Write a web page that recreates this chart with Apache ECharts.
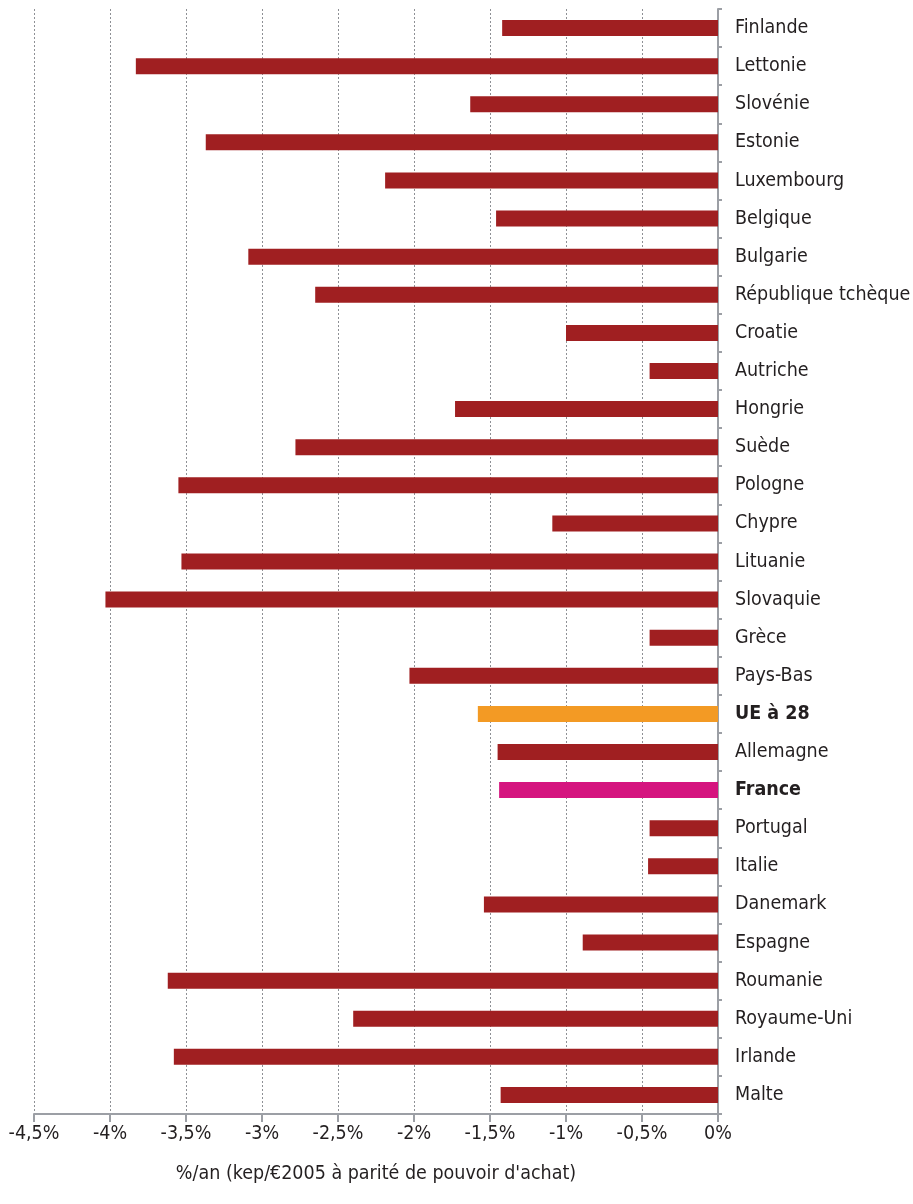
<!DOCTYPE html>
<html>
<head>
<meta charset="utf-8">
<script src="https://cdn.jsdelivr.net/npm/echarts@6/dist/echarts.min.js"></script>
<style>
  html, body { margin: 0; padding: 0; background: #fff; }
  #main { width: 913px; height: 1204px; }
</style>
</head>
<body>
<div id="main"></div>
<script>
// pays, de haut en bas
var pays = ['Finlande', 'Lettonie', 'Slovénie', 'Estonie', 'Luxembourg', 'Belgique',
  'Bulgarie', 'République tchèque', 'Croatie', 'Autriche', 'Hongrie', 'Suède',
  'Pologne', 'Chypre', 'Lituanie', 'Slovaquie', 'Grèce', 'Pays-Bas', 'UE à 28',
  'Allemagne', 'France', 'Portugal', 'Italie', 'Danemark', 'Espagne', 'Roumanie',
  'Royaume-Uni', 'Irlande', 'Malte'];

// évolution annuelle de l'intensité énergétique (%/an)
var evolution = [-1.42, -3.83, -1.63, -3.37, -2.19, -1.46,
  -3.09, -2.65, -1.00, -0.45, -1.73, -2.78,
  -3.55, -1.09, -3.53, -4.03, -0.45, -2.03, -1.58,
  -1.45, -1.44, -0.45, -0.46, -1.54, -0.89, -3.62,
  -2.40, -3.58, -1.43];

var ticksX = [-4.5, -4, -3.5, -3, -2.5, -2, -1.5, -1, -0.5, 0];

var couleurs = { 'UE à 28': '#F39A24', 'France': '#D5157F' };
var couleurDefaut = '#A01F21';
var police = '"Liberation Sans Narrow", "DejaVu Sans Condensed", "Liberation Sans", sans-serif';

var myChart = echarts.init(document.getElementById('main'));

var option = {
  animation: false,
  backgroundColor: '#fff',
  grid: { left: 34, right: 195, top: 9, bottom: 90, containLabel: false, outerBoundsMode: 'none' },
  xAxis: {
    type: 'value',
    min: ticksX[0],
    max: ticksX[ticksX.length - 1],
    interval: 0.5,
    name: "%/an (kep/€2005 à parité de pouvoir d'achat)",
    nameLocation: 'middle',
    nameGap: 50,
    nameTextStyle: { fontFamily: police, fontSize: 19.5, color: '#231F20' },
    axisLine: { show: true, lineStyle: { color: '#9C9FA5', width: 2 } },
    axisTick: { show: true, length: 8, lineStyle: { color: '#9C9FA5', width: 2 } },
    axisLabel: {
      margin: 10,
      fontFamily: police, fontSize: 19.5, color: '#231F20',
      formatter: function (v) { return String(v).replace('.', ',') + '%'; }
    },
    splitLine: { show: true, lineStyle: { color: '#8E9095', type: [2, 2], width: 1 } }
  },
  yAxis: {
    type: 'category',
    data: pays,
    inverse: true,
    position: 'right',
    axisLine: { show: true, onZero: false, lineStyle: { color: '#9C9FA5', width: 2 } },
    axisTick: { show: true, length: 4, lineStyle: { color: '#9C9FA5', width: 2 } },
    axisLabel: {
      margin: 17,
      fontFamily: police, fontSize: 19.5, color: '#231F20',
      formatter: function (v) {
        return couleurs[v] ? '{b|' + v + '}' : v;
      },
      rich: { b: { fontFamily: police, fontSize: 19.5, fontWeight: 'bold', color: '#231F20' } }
    },
    splitLine: { show: false }
  },
  series: [{
    type: 'bar',
    barWidth: 16,
    data: evolution.map(function (v, i) {
      return { value: v, itemStyle: { color: couleurs[pays[i]] || couleurDefaut } };
    })
  }]
};

myChart.setOption(option);
</script>
</body>
</html>
